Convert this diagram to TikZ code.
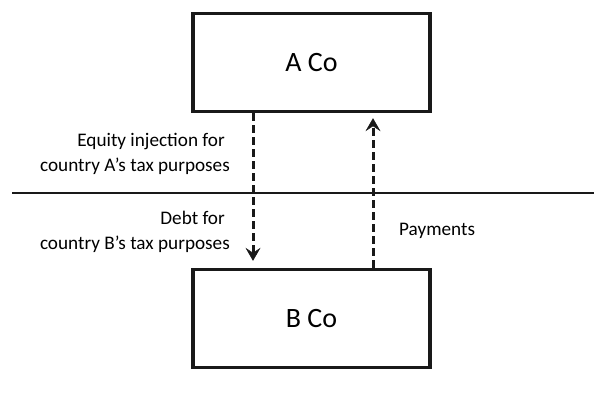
\documentclass[tikz,border=0pt]{standalone}
\usepackage{fontspec}
\setmainfont{Carlito}
\usetikzlibrary{arrows.meta}
\begin{document}
\begin{tikzpicture}[x=1pt,y=-1pt,
  cobox/.style={draw=black!90, line width=3.4pt, minimum width=237pt, minimum height=98pt,
    inner sep=0pt, font=\fontsize{28}{32}\selectfont},
  lbl/.style={inner sep=0pt, font=\fontsize{19.2}{25}\selectfont},
  darr/.style={line width=3pt, dash pattern=on 8pt off 4pt, draw=black!90,
    -{Stealth[length=13pt,width=15pt,inset=5pt,line width=0.5pt,sharp]}}]
\useasboundingbox (0,0) rectangle (594,394);
\node[cobox] (A) at (311.5,62.5) {A Co};
\node[cobox] (B) at (311.5,318.5) {B Co};
\coordinate (L) at (12,193);
\coordinate (R) at (594,193);
\draw[line width=2.8pt, black!90] (L) -- (R);
\coordinate (dx) at (253,0);
\coordinate (ux) at (373,0);
\draw[darr] (A.south -| dx) -- ([yshift=7pt]B.north -| dx);
\draw[darr] (B.north -| ux) -- ([yshift=-5pt]A.south -| ux);
\node[lbl, anchor=east, align=right] (t1) at (230,153.5) {Equity injection for\kern5pt\\country A’s tax purposes};
\node[lbl, anchor=east, align=right] (t2) at (230,232) {Debt for\kern5pt\\country B’s tax purposes};
\node[lbl, anchor=west] (t3) at (399,231) {Payments};
\end{tikzpicture}
\end{document}
